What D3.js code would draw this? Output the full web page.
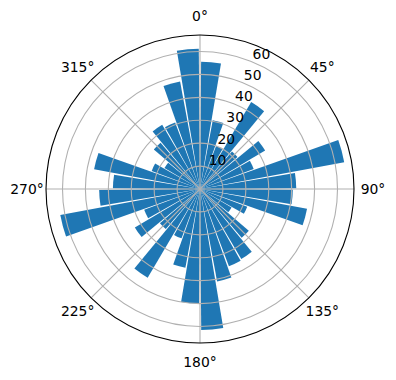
<!doctype html>
<html lang="en">
<head>
    <meta charset="utf-8"/>
    <title>Polar bar chart</title>
    <style>
        body { margin: 0; background: #fff; }
        text { font-family: "DejaVu Sans", sans-serif; font-size: 13.9px; fill: #000; }
    </style>
    <script src="https://d3js.org/d3.v7.min.js"></script>
</head>
<body>
<svg width="396" height="380"></svg>
<script>

    // bar centres in degrees (clockwise from north) and their lengths
    var directions = [5, 15, 25, 35, 45, 55, 65, 75, 85,
                      95, 105, 115, 125, 135, 145, 155, 165, 175,
                      185, 195, 205, 215, 225, 235, 245, 255, 265,
                      275, 285, 295, 305, 315, 325, 335, 345, 355];
    var values = [55.5, 30.5, 20, 44, 21.5, 33, 25, 64, 42,
                  40.5, 47.5, 22, 16, 28, 35.5, 36, 41, 61.5,
                  50, 35, 23, 45, 23, 33, 26, 62, 44,
                  38, 47, 22.5, 18, 26.5, 32.5, 31, 47.7, 61.2];
    var barWidthDeg = 9;

    var angleTicks = [0, 45, 90, 135, 180, 225, 270, 315];
    var angleLabels = ["0°", "45°", "90°", "135°", "180°", "225°", "270°", "315°"];
    var radialTicks = [10, 20, 30, 40, 50, 60];
    var rMax = 67.2;

    var svg = d3.select("svg"),
        cx = 200,
        cy = 189,
        outer = 154;

    var r = d3.scaleLinear().domain([0, rMax]).range([0, outer]);
    var rad = function(d) { return d * Math.PI / 180; };

    var g = svg.append("g")
            .attr("transform", "translate(" + cx + "," + cy + ")");

    var data = directions.map(function(d, i) { return {dir: d, value: values[i]}; });

    var arc = d3.arc()
        .innerRadius(0)
        .outerRadius(function(d) { return r(d.value); })
        .startAngle(function(d) { return rad(d.dir - barWidthDeg / 2); })
        .endAngle(function(d) { return rad(d.dir + barWidthDeg / 2); });

    g.selectAll(".bar")
     .data(data)
     .enter().append("path")
     .attr("class", "bar")
     .attr("d", arc)
     .attr("fill", "#1f77b4");

    // grid drawn over the bars, like matplotlib
    g.selectAll(".ring")
     .data(radialTicks)
     .enter().append("circle")
     .attr("r", function(d) { return r(d); })
     .attr("fill", "none")
     .attr("stroke", "#b0b0b0")
     .attr("stroke-width", 1.1);

    g.selectAll(".spoke")
     .data(angleTicks)
     .enter().append("line")
     .attr("x1", 0).attr("y1", 0)
     .attr("x2", function(d) { return outer * Math.sin(rad(d)); })
     .attr("y2", function(d) { return -outer * Math.cos(rad(d)); })
     .attr("stroke", "#b0b0b0")
     .attr("stroke-width", 1.1);

    g.append("circle")
     .attr("r", outer)
     .attr("fill", "none")
     .attr("stroke", "#000")
     .attr("stroke-width", 1.1);

    g.selectAll(".alabel")
     .data(angleTicks)
     .enter().append("text")
     .attr("x", function(d) { return (outer + 19) * Math.sin(rad(d)); })
     .attr("y", function(d) { return -(outer + 19) * Math.cos(rad(d)); })
     .attr("text-anchor", "middle")
     .attr("dominant-baseline", "central")
     .text(function(d, i) { return angleLabels[i]; });

    var labelAngle = rad(22.5);
    g.selectAll(".rlabel")
     .data(radialTicks)
     .enter().append("text")
     .attr("x", function(d) { return r(d) * Math.sin(labelAngle); })
     .attr("y", function(d) { return -r(d) * Math.cos(labelAngle) - 3; })
     .attr("text-anchor", "start")
     .text(function(d) { return d; });

</script>
</body>
</html>
